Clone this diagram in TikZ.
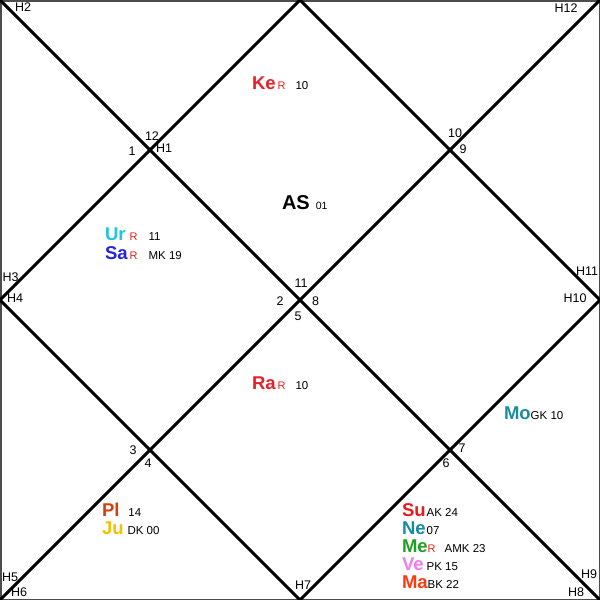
\documentclass[tikz,border=0pt]{standalone}
\usepackage{fontspec}
\setmainfont{Liberation Sans}
\definecolor{keRed}{HTML}{E8202A}
\definecolor{raRed}{HTML}{E8202A}
\definecolor{urCyan}{HTML}{20C4E4}
\definecolor{saBlue}{HTML}{2424E0}
\definecolor{moTeal}{HTML}{1A8E9E}
\definecolor{plRed}{HTML}{D2400E}
\definecolor{juGold}{HTML}{F2C200}
\definecolor{suRed}{HTML}{F01818}
\definecolor{neTeal}{HTML}{168C9C}
\definecolor{meGreen}{HTML}{22A022}
\definecolor{vePink}{HTML}{F07CF0}
\definecolor{maRed}{HTML}{FF3A10}
\definecolor{retroRed}{HTML}{F02020}
\newcommand{\planet}[2]{{\color{#1}\fontsize{18.5}{18.5}\selectfont\bfseries #2}}
\newcommand{\retro}{{\color{retroRed}\fontsize{11}{11}\selectfont R}}
\newcommand{\degr}[1]{{\fontsize{11.5}{11.5}\selectfont #1}}
\begin{document}
\begin{tikzpicture}[x=1pt,y=-1pt,
  chartline/.style={line width=3pt,black},
  entry/.style={anchor=base west,inner sep=0pt,outer sep=0pt},
  houseno/.style={inner sep=0pt,font=\fontsize{12.5}{12.5}\selectfont}]
\useasboundingbox (0,0) rectangle (600,600);
% corners and mid points
\coordinate (tl) at (0,0);
\coordinate (tr) at (600,0);
\coordinate (bl) at (0,600);
\coordinate (br) at (600,600);
\coordinate (tm) at (300,0);
\coordinate (rm) at (600,300);
\coordinate (bm) at (300,600);
\coordinate (lm) at (0,300);
\fill[white] (tl) rectangle (br);
\draw[line width=1.5pt,gray!60!black] (0.75,0.75) rectangle (599.25,599.25);
\draw[chartline] (tl) -- (br);
\draw[chartline] (tr) -- (bl);
\draw[chartline] (tm) -- (rm) -- (bm) -- (lm) -- cycle;
% house numbers
\node[houseno] (n12) at (152,136) {12};
\node[houseno] (n1) at (132,151.5) {1};
\node[houseno] (h1) at (164,148) {H1};
\node[houseno] (n10) at (455,133) {10};
\node[houseno] (n9) at (463,149) {9};
\node[houseno] (n11) at (301,283) {11};
\node[houseno] (n2) at (280,301) {2};
\node[houseno] (n8) at (315.5,301) {8};
\node[houseno] (n5) at (298,316.5) {5};
\node[houseno] (n3) at (133,450) {3};
\node[houseno] (n4) at (148,463) {4};
\node[houseno] (n7) at (462,448) {7};
\node[houseno] (n6) at (446,463) {6};
\node[houseno] (h2) at (23,7.5) {H2};
\node[houseno] (h12) at (566,8.5) {H12};
\node[houseno] (h3) at (10.5,277.5) {H3};
\node[houseno] (h4) at (15,298) {H4};
\node[houseno] (h11) at (587,271) {H11};
\node[houseno] (h10) at (575,298) {H10};
\node[houseno] (h5) at (10,577) {H5};
\node[houseno] (h6) at (19,592) {H6};
\node[houseno] (h7) at (303,585) {H7};
\node[houseno] (h8) at (576,592) {H8};
\node[houseno] (h9) at (589,574) {H9};
% ascendant
\node[entry] (as) at (282,209) {{\fontsize{20}{20}\selectfont\bfseries AS}\hspace{6pt}{\fontsize{10.5}{10.5}\selectfont 01}};
% planets
\node[entry] (ke) at (252,89.5) {\planet{keRed}{Ke}\hspace{2pt}\retro\hspace{10pt}\degr{10}};
\node[entry] (ur) at (105,240) {\planet{urCyan}{Ur}\hspace{4pt}\retro\hspace{11pt}\degr{11}};
\node[entry] (sa) at (105,259) {\planet{saBlue}{Sa}\hspace{2pt}\retro\hspace{11pt}\degr{MK 19}};
\node[entry] (ra) at (252,389.5) {\planet{raRed}{Ra}\hspace{2pt}\retro\hspace{10pt}\degr{10}};
\node[entry] (mo) at (504,419) {\planet{moTeal}{Mo}\degr{GK 10}};
\node[entry] (pl) at (102,516) {\planet{plRed}{Pl}\hspace{9pt}\degr{14}};
\node[entry] (ju) at (102,534.5) {\planet{juGold}{Ju}\hspace{4pt}\degr{DK 00}};
\node[entry] (su) at (402,516.5) {\planet{suRed}{Su}\hspace{1pt}\degr{AK 24}};
\node[entry] (ne) at (402,534.5) {\planet{neTeal}{Ne}\hspace{1pt}\degr{07}};
\node[entry] (me) at (402,552.5) {\planet{meGreen}{Me}\retro\hspace{9pt}\degr{AMK 23}};
\node[entry] (ve) at (402,570.5) {\planet{vePink}{Ve}\hspace{3pt}\degr{PK 15}};
\node[entry] (ma) at (402,588.5) {\planet{maRed}{Ma}\degr{BK 22}};
\end{tikzpicture}
\end{document}
